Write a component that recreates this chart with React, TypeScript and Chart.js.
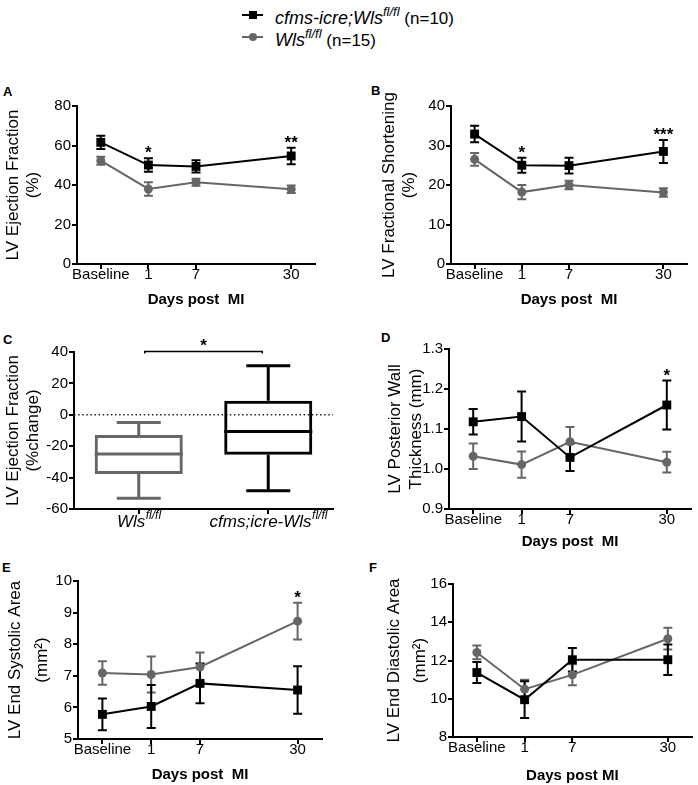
import React, { useEffect, useRef } from 'react';
import { Chart, registerables } from 'chart.js';

Chart.register(...registerables);

const FONT = '"Liberation Sans", Arial, Helvetica, sans-serif';
const BLACK = '#000000';
const GRAY = '#666666';

// ---------- shared ----------
const dayLabels = ['Baseline', '1', '7', '30'];
const dayPositions = [0, 1, 2, 4];
const seriesNames = ['cfms-icre;Wls', 'Wls'];
const seriesSup = 'fl/fl';
const seriesN = ['(n=10)', '(n=15)'];

// ---------- A: LV Ejection Fraction ----------
const efKO = [61.6, 50.1, 49.4, 54.7];
const efKOErr = [3.4, 3.4, 3.1, 4.2];
const efWT = [52.3, 38.0, 41.4, 37.9];
const efWTErr = [2.0, 3.4, 1.8, 1.9];
const efSig = ['', '*', '', '**'];

// ---------- B: LV Fractional Shortening ----------
const fsKO = [32.9, 25.0, 24.9, 28.5];
const fsKOErr = [2.1, 1.9, 2.0, 2.9];
const fsWT = [26.5, 18.2, 20.0, 18.1];
const fsWTErr = [1.6, 1.8, 1.1, 1.1];
const fsSig = ['', '*', '', '***'];

// ---------- C: EF % change box plot ----------
const boxGroups = ['Wls', 'cfms;icre-Wls'];
const boxMin = [-53.2, -48.3];
const boxQ1 = [-37.7, -25.5];
const boxMedian = [-24.9, -10.6];
const boxQ3 = [-12.8, 8.9];
const boxMax = [-4.9, 31.3];
const boxSig = '*';

// ---------- D: LV Posterior Wall Thickness ----------
const pwKO = [1.118, 1.131, 1.029, 1.16];
const pwKOErr = [0.032, 0.0625, 0.034, 0.061];
const pwWT = [1.032, 1.011, 1.068, 1.017];
const pwWTErr = [0.032, 0.033, 0.037, 0.026];
const pwSig = ['', '', '', '*'];

// ---------- E: LV End Systolic Area ----------
const esKO = [5.78, 6.03, 6.76, 6.55];
const esKOErr = [0.5, 0.68, 0.63, 0.75];
const esWT = [7.09, 7.04, 7.28, 8.73];
const esWTErr = [0.37, 0.57, 0.46, 0.58];
const esSig = ['', '', '', '*'];

// ---------- F: LV End Diastolic Area ----------
const edKO = [11.37, 9.95, 12.04, 12.04];
const edKOErr = [0.55, 0.96, 0.62, 0.8];
const edWT = [12.42, 10.5, 11.25, 13.14];
const edWTErr = [0.36, 0.5, 0.55, 0.57];
const edSig = ['', '', '', ''];

// ---------- plugins ----------
const errorBarPlugin = {
  id: 'errorBars',
  beforeDatasetsDraw(chart: any, _a: any, opts: any) {
    const { ctx } = chart;
    const xs = chart.scales.x;
    const ys = chart.scales.y;
    const errs: number[][] = opts.errors || [];
    for (let di = chart.data.datasets.length - 1; di >= 0; di--) {
      const ds = chart.data.datasets[di];
      const e = errs[di];
      if (!e) continue;
      ctx.save();
      ctx.strokeStyle = ds.borderColor;
      ctx.lineWidth = 2;
      ds.data.forEach((pt: any, i: number) => {
        const x = xs.getPixelForValue(pt.x);
        const y1 = ys.getPixelForValue(pt.y + e[i]);
        const y2 = ys.getPixelForValue(pt.y - e[i]);
        ctx.beginPath();
        ctx.moveTo(x, y1);
        ctx.lineTo(x, y2);
        ctx.moveTo(x - 4.5, y1);
        ctx.lineTo(x + 4.5, y1);
        ctx.moveTo(x - 4.5, y2);
        ctx.lineTo(x + 4.5, y2);
        ctx.stroke();
      });
      ctx.restore();
    }
  },
  afterDraw(chart: any, _a: any, opts: any) {
    const { ctx } = chart;
    const xs = chart.scales.x;
    const ys = chart.scales.y;
    const errs: number[][] = opts.errors || [];
    const sig: string[] = opts.sig || [];
    sig.forEach((s, i) => {
      if (!s) return;
      let top = Infinity;
      chart.data.datasets.forEach((ds: any, di: number) => {
        const pt = ds.data[i];
        const e = errs[di] ? errs[di][i] : 0;
        top = Math.min(top, ys.getPixelForValue(pt.y + e));
      });
      const x = xs.getPixelForValue(dayPositions[i]);
      ctx.save();
      ctx.fillStyle = BLACK;
      ctx.font = `bold 17px ${FONT}`;
      ctx.textAlign = 'center';
      ctx.textBaseline = 'alphabetic';
      ctx.fillText(s, x, top);
      ctx.restore();
    });
  },
};

const boxColors = [GRAY, BLACK];

const boxPlugin = {
  id: 'boxExtras',
  beforeDatasetsDraw(chart: any) {
    const { ctx, chartArea } = chart;
    const y0 = chart.scales.y.getPixelForValue(0);
    ctx.save();
    ctx.strokeStyle = '#222';
    ctx.lineWidth = 1.5;
    ctx.setLineDash([1.5, 2.6]);
    ctx.beginPath();
    ctx.moveTo(chartArea.left, y0);
    ctx.lineTo(chartArea.right, y0);
    ctx.stroke();
    ctx.restore();
  },
  afterDatasetsDraw(chart: any) {
    const { ctx } = chart;
    const ys = chart.scales.y;
    const meta = chart.getDatasetMeta(0);
    meta.data.forEach((bar: any, i: number) => {
      const cx = bar.x;
      const half = bar.width / 2;
      const cap = bar.width / 4;
      ctx.save();
      ctx.strokeStyle = boxColors[i];
      ctx.lineWidth = 3;
      ctx.beginPath();
      const pMed = ys.getPixelForValue(boxMedian[i]);
      ctx.moveTo(cx - half, pMed);
      ctx.lineTo(cx + half, pMed);
      const pQ3 = ys.getPixelForValue(boxQ3[i]);
      const pMax = ys.getPixelForValue(boxMax[i]);
      ctx.moveTo(cx, pQ3);
      ctx.lineTo(cx, pMax);
      ctx.moveTo(cx - cap, pMax);
      ctx.lineTo(cx + cap, pMax);
      const pQ1 = ys.getPixelForValue(boxQ1[i]);
      const pMin = ys.getPixelForValue(boxMin[i]);
      ctx.moveTo(cx, pQ1);
      ctx.lineTo(cx, pMin);
      ctx.moveTo(cx - cap, pMin);
      ctx.lineTo(cx + cap, pMin);
      ctx.stroke();
      ctx.restore();
    });
  },
  afterDraw(chart: any) {
    const { ctx } = chart;
    const xs = chart.scales.x;
    const ys = chart.scales.y;
    // significance bracket
    const x1 = xs.getPixelForValue(0) + 6;
    const x2 = xs.getPixelForValue(1) - 6;
    const yb = ys.getPixelForValue(40.3);
    const yt = ys.getPixelForValue(39);
    ctx.save();
    ctx.strokeStyle = BLACK;
    ctx.lineWidth = 1.5;
    ctx.beginPath();
    ctx.moveTo(x1, yt);
    ctx.lineTo(x1, yb);
    ctx.lineTo(x2, yb);
    ctx.lineTo(x2, yt);
    ctx.stroke();
    ctx.fillStyle = BLACK;
    ctx.font = `bold 17px ${FONT}`;
    ctx.textAlign = 'center';
    ctx.textBaseline = 'alphabetic';
    ctx.fillText(boxSig, (x1 + x2) / 2, yb - 1);
    // category labels with superscripts
    const baseY = chart.chartArea.bottom + 18;
    boxGroups.forEach((g, i) => {
      const cx = xs.getPixelForValue(i);
      ctx.font = `italic 17px ${FONT}`;
      const mw = ctx.measureText(g).width;
      ctx.font = `italic 12px ${FONT}`;
      const sw = ctx.measureText(seriesSup).width;
      const start = cx - (mw + sw) / 2;
      ctx.textAlign = 'left';
      ctx.font = `italic 17px ${FONT}`;
      ctx.fillText(g, start, baseY);
      ctx.font = `italic 12px ${FONT}`;
      ctx.fillText(seriesSup, start + mw + 0.5, baseY - 8);
    });
    ctx.restore();
  },
};

// ---------- chart helpers ----------
type Geo = {
  left: number;
  top: number;
  width: number;
  height: number;
  axisX: number;
  areaTop: number;
  areaBottom: number;
  areaRight: number;
  titlePad: number;
  titleLH: number;
};

function yScale(g: Geo, min: number, max: number, step: number, title: string[], dec: number) {
  return {
    type: 'linear',
    min,
    max,
    afterFit: (s: any) => {
      s.width = g.axisX - g.left;
    },
    ticks: {
      stepSize: step,
      color: BLACK,
      padding: 1,
      font: { family: FONT, size: 15 },
      callback: (v: any) => Number(v).toFixed(dec),
    },
    grid: { drawOnChartArea: false, drawTicks: true, tickLength: 5, color: BLACK, lineWidth: 2 },
    border: { color: BLACK, width: 2 },
    title: {
      display: true,
      text: title,
      color: BLACK,
      font: { family: FONT, size: 17, lineHeight: g.titleLH },
      padding: { top: g.titlePad, bottom: 0 },
    },
  };
}

function lineConfig(
  g: Geo,
  ko: number[],
  koErr: number[],
  wt: number[],
  wtErr: number[],
  sig: string[],
  yMin: number,
  yMax: number,
  yStep: number,
  yTitle: string[],
  dec: number,
  xTitle: string
): any {
  return {
    type: 'line',
    data: {
      datasets: [
        {
          label: seriesNames[0],
          data: dayPositions.map((x, i) => ({ x, y: ko[i] })),
          borderColor: BLACK,
          backgroundColor: BLACK,
          borderWidth: 2,
          pointStyle: 'rect',
          pointRadius: 6.3,
          pointBorderWidth: 0,
          tension: 0,
          clip: false,
        },
        {
          label: seriesNames[1],
          data: dayPositions.map((x, i) => ({ x, y: wt[i] })),
          borderColor: GRAY,
          backgroundColor: GRAY,
          borderWidth: 2,
          pointStyle: 'circle',
          pointRadius: 4.5,
          pointBorderWidth: 0,
          tension: 0,
          clip: false,
        },
      ],
    },
    options: {
      responsive: false,
      animation: false,
      events: [],
      layout: {
        padding: {
          left: 0,
          top: g.areaTop - g.top,
          right: g.left + g.width - g.areaRight,
          bottom: 0,
        },
      },
      plugins: {
        legend: { display: false },
        tooltip: { enabled: false },
        errorBars: { errors: [koErr, wtErr], sig },
      },
      scales: {
        x: {
          type: 'linear',
          min: -0.5,
          max: 4.5,
          afterFit: (s: any) => {
            s.height = g.top + g.height - g.areaBottom;
          },
          afterBuildTicks: (s: any) => {
            s.ticks = dayPositions.map((v) => ({ value: v }));
          },
          ticks: {
            color: BLACK,
            padding: -3,
            maxRotation: 0,
            autoSkip: false,
            font: { family: FONT, size: 15 },
            callback: (v: any) => dayLabels[dayPositions.indexOf(Number(v))],
          },
          grid: { drawOnChartArea: false, drawTicks: true, tickLength: 5, color: BLACK, lineWidth: 2 },
          border: { color: BLACK, width: 2 },
          title: {
            display: true,
            text: xTitle,
            color: BLACK,
            font: { family: FONT, size: 15, weight: 'bold', lineHeight: 1.2 },
            padding: 0,
          },
        },
        y: yScale(g, yMin, yMax, yStep, yTitle, dec),
      },
    },
    plugins: [errorBarPlugin],
  };
}

function boxConfig(g: Geo): any {
  return {
    type: 'bar',
    data: {
      labels: boxGroups,
      datasets: [
        {
          data: boxGroups.map((_, i) => [boxQ1[i], boxQ3[i]]),
          backgroundColor: 'rgba(0,0,0,0)',
          borderColor: boxColors,
          borderWidth: 3,
          borderSkipped: false,
          barPercentage: 0.68,
          categoryPercentage: 1,
        },
      ],
    },
    options: {
      responsive: false,
      animation: false,
      events: [],
      layout: {
        padding: { left: 0, top: g.areaTop - g.top, right: g.left + g.width - g.areaRight, bottom: 0 },
      },
      plugins: { legend: { display: false }, tooltip: { enabled: false } },
      scales: {
        x: {
          type: 'category',
          afterFit: (s: any) => {
            s.height = g.top + g.height - g.areaBottom;
          },
          ticks: { display: false },
          grid: { offset: false, drawOnChartArea: false, drawTicks: true, tickLength: 5, color: BLACK, lineWidth: 2 },
          border: { color: BLACK, width: 2 },
        },
        y: yScale(g, -60, 40, 20, ['LV Ejection Fraction', '(%change)'], 0),
      },
    },
    plugins: [boxPlugin],
  };
}

function ChartCanvas({ g, build }: { g: Geo; build: () => any }) {
  const ref = useRef<HTMLCanvasElement>(null);
  useEffect(() => {
    const chart = new Chart(ref.current as HTMLCanvasElement, build());
    return () => chart.destroy();
  }, []);
  return (
    <canvas
      ref={ref}
      width={g.width}
      height={g.height}
      style={{ position: 'absolute', left: g.left, top: g.top, width: g.width, height: g.height }}
    />
  );
}

const geoA: Geo = { left: 0, top: 80, width: 349, height: 229, axisX: 77, areaTop: 106, areaBottom: 264, areaRight: 315, titlePad: 2.8, titleLH: 1.2 };
const geoB: Geo = { left: 349, top: 80, width: 349, height: 229, axisX: 451, areaTop: 106, areaBottom: 264, areaRight: 687, titlePad: 29.8, titleLH: 1.2 };
const geoC: Geo = { left: 0, top: 320, width: 349, height: 225, axisX: 74, areaTop: 352, areaBottom: 509, areaRight: 333, titlePad: 3.1, titleLH: 1.2 };
const geoD: Geo = { left: 349, top: 320, width: 349, height: 231, axisX: 449, areaTop: 349, areaBottom: 509, areaRight: 691, titlePad: 36.5, titleLH: 1.2 };
const geoE: Geo = { left: 0, top: 550, width: 349, height: 234, axisX: 78, areaTop: 581, areaBottom: 739, areaRight: 322, titlePad: 2.5, titleLH: 1.55 };
const geoF: Geo = { left: 349, top: 550, width: 349, height: 235, axisX: 453, areaTop: 584, areaBottom: 737, areaRight: 696, titlePad: 31.8, titleLH: 1.55 };

const letterStyle = (left: number, top: number): React.CSSProperties => ({
  position: 'absolute',
  left,
  top,
  fontFamily: FONT,
  fontWeight: 'bold',
  fontSize: 13,
  lineHeight: '13px',
  color: BLACK,
});

function LegendRow({ top, idx }: { top: number; idx: number }) {
  const color = idx === 0 ? BLACK : GRAY;
  return (
    <>
      <div style={{ position: 'absolute', left: 242, top: top + 3, width: 21, height: 2, background: color }} />
      <div
        style={{
          position: 'absolute',
          left: 248.5,
          top: top,
          width: 8,
          height: 8,
          background: color,
          borderRadius: idx === 0 ? 0 : 4,
        }}
      />
      <div
        style={{
          position: 'absolute',
          left: 275,
          top: top - 2,
          fontFamily: FONT,
          fontSize: 18,
          lineHeight: '18px',
          whiteSpace: 'nowrap',
          color: BLACK,
        }}
      >
        <span style={{ fontStyle: 'italic' }}>{seriesNames[idx]}</span>
        <span style={{ fontStyle: 'italic', fontSize: 13, position: 'relative', top: -8 }}>{seriesSup}</span>
        <span style={{ fontSize: 17 }}>{'\u00A0' + seriesN[idx]}</span>
      </div>
    </>
  );
}

export default function App() {
  return (
    <div
      style={{
        position: 'absolute',
        left: 0,
        top: 0,
        width: 698,
        height: 785,
        overflow: 'hidden',
        background: '#ffffff',
      }}
    >
      <LegendRow top={11} idx={0} />
      <LegendRow top={33} idx={1} />

      <div style={letterStyle(3, 85.3)}>A</div>
      <div style={letterStyle(371, 84.3)}>B</div>
      <div style={letterStyle(3, 333.3)}>C</div>
      <div style={letterStyle(381, 331.3)}>D</div>
      <div style={letterStyle(2, 561)}>E</div>
      <div style={letterStyle(369, 561)}>F</div>

      <ChartCanvas
        g={geoA}
        build={() => lineConfig(geoA, efKO, efKOErr, efWT, efWTErr, efSig, 0, 80, 20, ['LV Ejection Fraction', '(%)'], 0, 'Days post  MI')}
      />
      <ChartCanvas
        g={geoB}
        build={() => lineConfig(geoB, fsKO, fsKOErr, fsWT, fsWTErr, fsSig, 0, 40, 10, ['LV Fractional Shortening', '(%)'], 0, 'Days post  MI')}
      />
      <ChartCanvas g={geoC} build={() => boxConfig(geoC)} />
      <ChartCanvas
        g={geoD}
        build={() => lineConfig(geoD, pwKO, pwKOErr, pwWT, pwWTErr, pwSig, 0.9, 1.3, 0.1, ['LV Posterior Wall', 'Thickness (mm)'], 1, 'Days post  MI')}
      />
      <ChartCanvas
        g={geoE}
        build={() => lineConfig(geoE, esKO, esKOErr, esWT, esWTErr, esSig, 5, 10, 1, ['LV End Systolic Area', '(mm\u00B2)'], 0, 'Days post  MI')}
      />
      <ChartCanvas
        g={geoF}
        build={() => lineConfig(geoF, edKO, edKOErr, edWT, edWTErr, edSig, 8, 16, 2, ['LV End Diastolic Area', '(mm\u00B2)'], 0, 'Days post MI')}
      />
    </div>
  );
}
